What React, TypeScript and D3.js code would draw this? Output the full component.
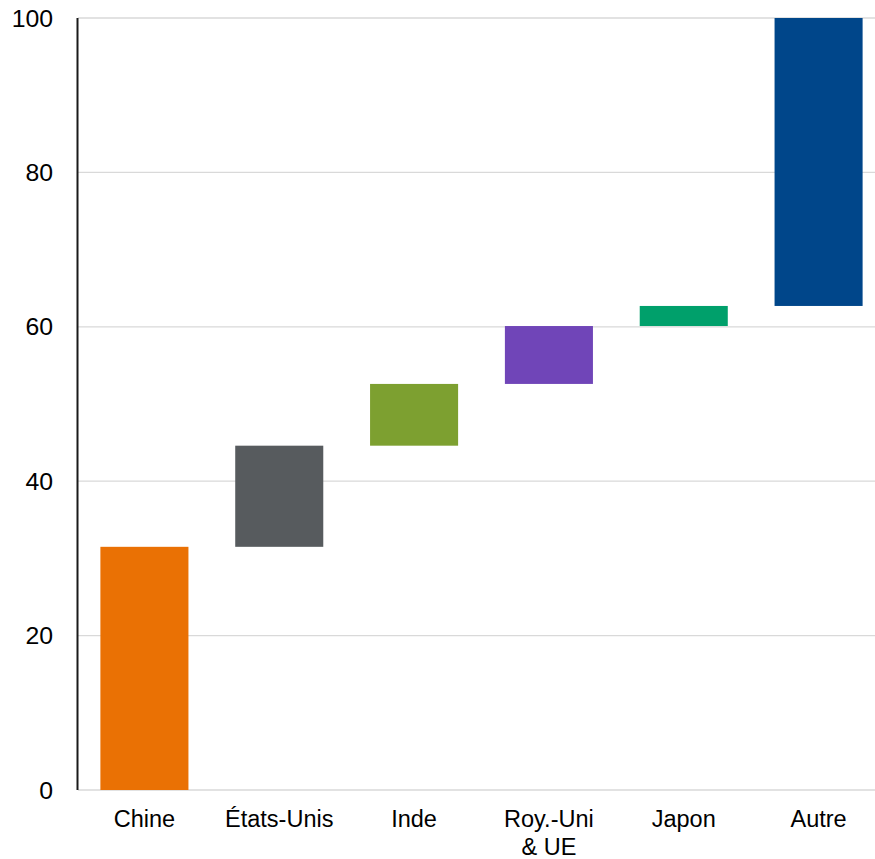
import React from "react";
import * as d3 from "d3";

const categories: string[][] = [["Chine"], ["États-Unis"], ["Inde"], ["Roy.-Uni", "& UE"], ["Japon"], ["Autre"]];
const increments: number[] = [31.5, 13.1, 8.0, 7.5, 2.6, 37.3];
const colors: string[] = ["#EA7104", "#575B5E", "#7DA030", "#7045B8", "#00A06B", "#00468A"];
const yTicks: number[] = [0, 20, 40, 60, 80, 100];

const W = 875;
const H = 859;

export default function App() {
  const x = d3
    .scaleBand<number>()
    .domain(d3.range(categories.length))
    .range([77, 886])
    .paddingInner(0.347)
    .paddingOuter(0.1735);
  const y = d3.scaleLinear().domain([0, 100]).range([790, 18]);

  let acc = 0;
  const bars = increments.map((v, i) => {
    const start = acc;
    acc += v;
    return { i, start, end: acc };
  });

  const font = "'Liberation Sans', Arial, sans-serif";

  return (
    <svg width={W} height={H} style={{ position: "absolute", left: 0, top: 0 }}>
      <rect width={W} height={H} fill="#ffffff" />
      {yTicks.map((t) => (
        <g key={t}>
          <line x1={78} x2={W} y1={y(t)} y2={y(t)} stroke="#d9d9d9" strokeWidth={1.3} />
          <text x={53} y={y(t)} dy="0.35em" textAnchor="end" fontFamily={font} fontSize={24.8} fill="#000">
            {t}
          </text>
        </g>
      ))}
      {bars.map((b) => (
        <rect
          key={b.i}
          x={x(b.i)}
          width={x.bandwidth()}
          y={y(b.end)}
          height={y(b.start) - y(b.end)}
          fill={colors[b.i]}
        />
      ))}
      <line x1={77.5} x2={77.5} y1={y(100)} y2={y(0)} stroke="#1a1a1a" strokeWidth={2} />
      {categories.map((lines, i) => (
        <text
          key={i}
          x={(x(i) as number) + x.bandwidth() / 2}
          y={827}
          textAnchor="middle"
          fontFamily={font}
          fontSize={23.5}
          fill="#000"
        >
          {lines.map((l, j) => (
            <tspan key={j} x={(x(i) as number) + x.bandwidth() / 2} dy={j === 0 ? 0 : 28}>
              {l}
            </tspan>
          ))}
        </text>
      ))}
    </svg>
  );
}
